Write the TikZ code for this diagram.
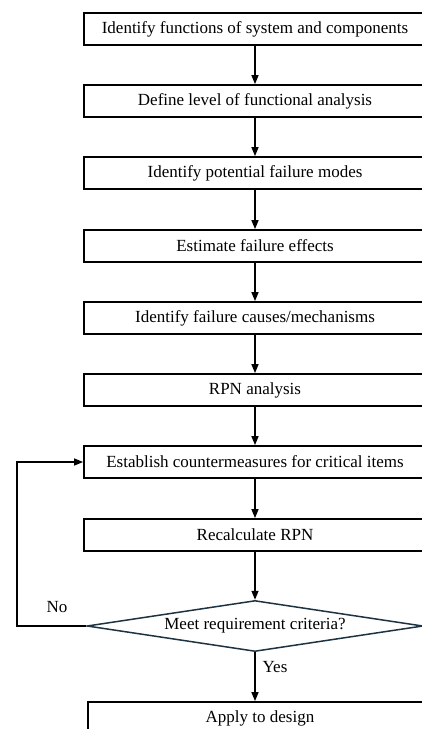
\documentclass[tikz,border=0pt]{standalone}
\usepackage{fontspec}
\setmainfont{Liberation Serif}
\usetikzlibrary{positioning,arrows.meta,shapes.geometric}

\tikzset{
  stepbox/.style={draw=black,line width=1.8pt,rectangle,minimum width=342pt,
    minimum height=32pt,inner sep=0pt,font=\fontsize{17}{20}\selectfont},
  decide/.style={draw={rgb,255:red,30;green,51;blue,66},line width=1.5pt,diamond,
    aspect=6.6,minimum width=336pt,minimum height=51pt,inner sep=0pt,
    font=\fontsize{17}{20}\selectfont},
  lbl/.style={font=\fontsize{17}{20}\selectfont,inner sep=0pt},
  flow/.style={line width=1.5pt,-{Stealth[length=9pt,width=7pt,inset=0pt]}}
}

\begin{document}
\begin{tikzpicture}[x=1pt,y=-1pt]
\clip (0,0) rectangle (422,729);
% process steps
\node[stepbox] (fun) at (255,29) {Identify functions of system and components};
\node[stepbox] (lev) at (255,101) {Define level of functional analysis};
\node[stepbox] (mod) at (255,173) {Identify potential failure modes};
\node[stepbox] (eff) at (255,246) {Estimate failure effects};
\node[stepbox] (cau) at (255,318) {Identify failure causes/mechanisms};
\node[stepbox] (rpn) at (255,390) {RPN analysis};
\node[stepbox] (cnt) at (255,462) {Establish countermeasures for critical items};
\node[stepbox] (rec) at (255,535) {Recalculate RPN};
% decision
\node[decide] (meet) at (255,626) {Meet requirement criteria?};
\node[stepbox,minimum width=344pt] (app) at (260,718) {Apply to design};
\coordinate (back1) at (17,626);
\coordinate (back2) at (17,462);
% arrows
\draw[flow] (fun) -- (lev);
\draw[flow] (lev) -- (mod);
\draw[flow] (mod) -- (eff);
\draw[flow] (eff) -- (cau);
\draw[flow] (cau) -- (rpn);
\draw[flow] (rpn) -- (cnt);
\draw[flow] (cnt) -- (rec);
\draw[flow] (rec) -- (meet);
\draw[flow] (meet.south) -- (meet.south |- app.north);
\draw[flow] (meet.west) -- (back1) -- (back2) -- (cnt.west);
\node[lbl] (no) at (57,607) {No};
\node[lbl] (yes) at (275,667) {Yes};
\end{tikzpicture}
\end{document}
